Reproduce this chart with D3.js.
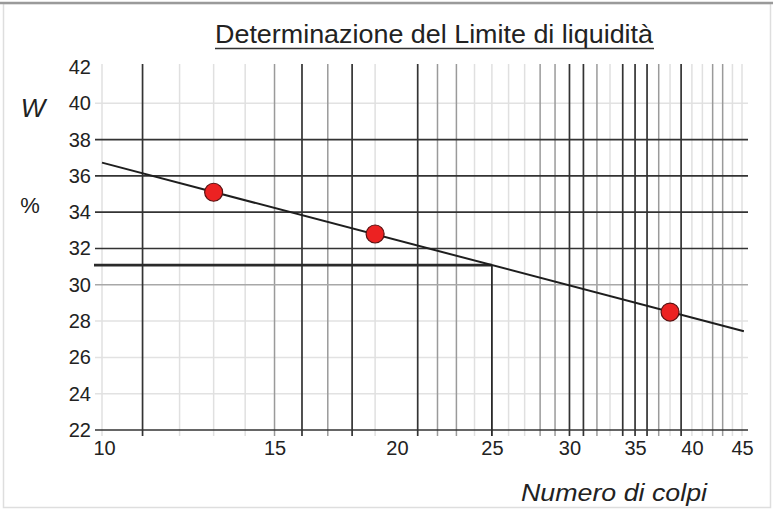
<!DOCTYPE html>
<html>
<head>
<meta charset="utf-8">
<script src="https://cdn.jsdelivr.net/npm/d3@7"></script>
<style>
  html, body { margin: 0; padding: 0; background: #fff; }
  svg { display: block; }
  text { font-family: "Liberation Sans", Arial, Helvetica, sans-serif; fill: #222; }
</style>
</head>
<body>
<svg id="chart" width="773" height="510"></svg>
<script>
// Prova di Casagrande: numero di colpi (scala log) e contenuto d'acqua W %
const blows = [13, 19, 38];
const water = [35.1, 32.8, 28.5];
const blowTicks = [10, 15, 20, 25, 30, 35, 40, 45];
const waterTicks = [22, 24, 26, 28, 30, 32, 34, 36, 38, 40, 42];
const referenceBlows = 25;

// Reticolo della carta semilogaritmica, per intensità del tratto
const vGridDark = [11, 16, 18, 21, 30, 31, 34, 35, 36, 39];
const vGridMid = [15, 17, 22, 23, 28, 29, 32, 37, 42, 43];
const vGridLight = [10, 12, 13, 14, 19, 24, 25, 26, 27, 33, 38, 40, 41, 44, 45];
const hGridDark = [32, 34, 36, 38];
const hGridMid = [30];
const hGridLight = [24, 26, 28, 40];

const svg = d3.select("#chart");
const W = 773, H = 510;

const x = d3.scaleLog().domain([10, 45]).range([102, 742]);
const y = d3.scaleLinear().domain([22, 42]).range([430, 67]);

// Cornice
svg.append("rect").attr("x", 3.5).attr("y", 3.5).attr("width", W - 6).attr("height", H - 6)
  .attr("fill", "none").attr("stroke", "#dedede").attr("stroke-width", 1.5);
svg.append("line").attr("x1", 0).attr("x2", W).attr("y1", 3).attr("y2", 3)
  .attr("stroke", "#9a9a9a").attr("stroke-width", 2.5);

// Titolo sottolineato
svg.append("text").attr("x", 434).attr("y", 43).attr("text-anchor", "middle")
  .attr("font-size", 25).attr("textLength", 438).attr("lengthAdjust", "spacingAndGlyphs")
  .text("Determinazione del Limite di liquidità");
svg.append("line").attr("x1", 215).attr("x2", 654).attr("y1", 48.5).attr("y2", 48.5)
  .attr("stroke", "#333").attr("stroke-width", 1.6);

const grid = svg.append("g");
const xLeft = 95, xRight = 748, yTop = 64, yBottom = 436;

function hLines(vals, color, w) {
  grid.append("g").selectAll("line").data(vals).join("line")
    .attr("x1", xLeft).attr("x2", xRight)
    .attr("y1", d => y(d)).attr("y2", d => y(d))
    .attr("stroke", color).attr("stroke-width", w);
}
function vLines(vals, color, w) {
  grid.append("g").selectAll("line").data(vals).join("line")
    .attr("x1", d => x(d)).attr("x2", d => x(d))
    .attr("y1", yTop).attr("y2", yBottom)
    .attr("stroke", color).attr("stroke-width", w);
}
hLines(hGridLight, "#e2e2e2", 1.5);
vLines(vGridLight, "#e0e0e0", 1.5);
vLines(vGridMid, "#9a9a9a", 1.5);
hLines(hGridMid, "#a8a8a8", 1.5);
vLines(vGridDark, "#333", 1.7);
hLines(hGridDark, "#333", 1.7);
// Asse orizzontale a W = 22
hLines([22], "#333", 1.7);

// Retta interpolante W = a + b·log10(N) ai minimi quadrati
const lx = blows.map(n => Math.log10(n));
const mx = d3.mean(lx), my = d3.mean(water);
const b = d3.sum(lx, (v, i) => (v - mx) * (water[i] - my)) / d3.sum(lx, v => (v - mx) ** 2);
const a = my - b * mx;
const fit = n => a + b * Math.log10(n);
const wL = fit(referenceBlows);

// Costruzione grafica del limite a 25 colpi
svg.append("line").attr("x1", 94).attr("x2", x(referenceBlows))
  .attr("y1", y(wL)).attr("y2", y(wL))
  .attr("stroke", "#2a2a2a").attr("stroke-width", 2.8);
svg.append("line").attr("x1", x(referenceBlows)).attr("x2", x(referenceBlows))
  .attr("y1", y(wL)).attr("y2", yBottom)
  .attr("stroke", "#2a2a2a").attr("stroke-width", 1.8);

const fitLine = d3.line().x(d => x(d)).y(d => y(fit(d)));
svg.append("path").datum([10, 45.2]).attr("d", fitLine)
  .attr("fill", "none").attr("stroke", "#1e1e1e").attr("stroke-width", 2);

// Punti sperimentali
svg.append("g").selectAll("circle").data(blows).join("circle")
  .attr("cx", d => x(d)).attr("cy", (d, i) => y(water[i])).attr("r", 9)
  .attr("fill", "#ec2222").attr("stroke", "#5a1212").attr("stroke-width", 1.2);

// Etichette degli assi
const xAxis = d3.axisBottom(x).tickValues(blowTicks).tickFormat(d3.format("d")).tickSize(0).tickPadding(0);
const gx = svg.append("g").attr("transform", "translate(0,441)").call(xAxis);
gx.select(".domain").remove();
gx.selectAll("text").attr("font-size", 20).attr("dy", "0.72em")
  .attr("font-family", "'Liberation Sans', Arial, sans-serif").attr("fill", "#222");
gx.selectAll(".tick").filter(d => d === 10).select("text").attr("dx", 2);

const yAxis = d3.axisLeft(y).tickValues(waterTicks).tickSize(0).tickPadding(0);
const gy = svg.append("g").attr("transform", "translate(91,0)").call(yAxis);
gy.select(".domain").remove();
gy.selectAll("text").attr("font-size", 20)
  .attr("font-family", "'Liberation Sans', Arial, sans-serif").attr("fill", "#222");

svg.append("text").attr("x", 33).attr("y", 117).attr("text-anchor", "middle")
  .attr("font-size", 26).attr("font-style", "italic").text("W");
svg.append("text").attr("x", 30).attr("y", 213).attr("text-anchor", "middle")
  .attr("font-size", 22).text("%");
svg.append("text").attr("x", 521).attr("y", 501).attr("font-size", 23)
  .attr("font-style", "italic").attr("textLength", 186).attr("lengthAdjust", "spacingAndGlyphs")
  .text("Numero di colpi");
</script>
</body>
</html>
